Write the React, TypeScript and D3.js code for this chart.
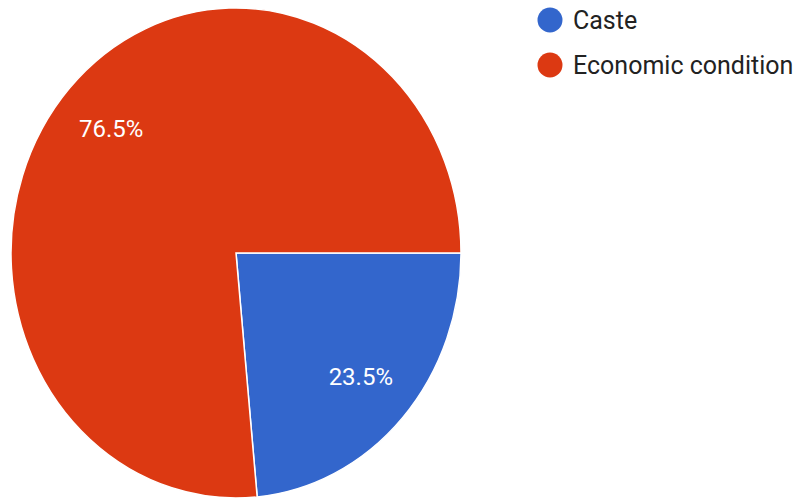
import React from "react";
import * as d3 from "d3";

const categories = ["Caste", "Economic condition"];
const values = [23.5, 76.5];
const colors = ["#3366CC", "#DC3912"];

const W = 799;
const H = 499;
const cx = 236;
const cy = 253;
const rx = 225;
const ry = 245;

export default function App() {
  const pie = d3
    .pie<number>()
    .sort(null)
    .startAngle(Math.PI / 2)
    .endAngle(Math.PI / 2 + 2 * Math.PI)
    .value((d) => d);
  const arcs = pie(values);
  const R = 100;
  const arc = d3.arc<d3.PieArcDatum<number>>().innerRadius(0).outerRadius(R);
  const labelArc = d3
    .arc<d3.PieArcDatum<number>>()
    .innerRadius(R * 0.75)
    .outerRadius(R * 0.75);
  const sx = rx / R;
  const sy = ry / R;
  const total = d3.sum(values);

  return (
    <svg
      width={W}
      height={H}
      style={{ position: "absolute", left: 0, top: 0, background: "#fff" }}
      fontFamily="Roboto, sans-serif"
    >
      <g transform={`translate(${cx},${cy}) scale(${sx},${sy})`}>
        {arcs.map((a, i) => (
          <path
            key={i}
            d={arc(a) || ""}
            fill={colors[i]}
            stroke="#fff"
            strokeWidth={1.5}
            vectorEffect="non-scaling-stroke"
          />
        ))}
      </g>
      {arcs.map((a, i) => {
        const [x, y] = labelArc.centroid(a);
        return (
          <text
            key={i}
            x={cx + x * sx}
            y={cy + y * sy}
            fill="#fff"
            fontSize={24}
            textAnchor="middle"
            dominantBaseline="central"
          >
            {((values[i] / total) * 100).toFixed(1)}%
          </text>
        );
      })}
      {categories.map((c, i) => (
        <g key={c} transform={`translate(550,${20 + i * 45})`}>
          <circle r={12.5} fill={colors[i]} />
          <text
            x={23}
            y={0}
            fontSize={25}
            fill="#222"
            dominantBaseline="central"
          >
            {c}
          </text>
        </g>
      ))}
    </svg>
  );
}
